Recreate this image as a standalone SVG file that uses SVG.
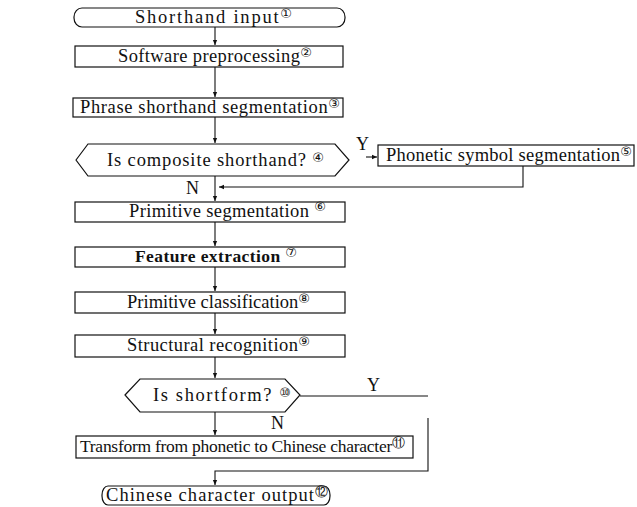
<svg xmlns="http://www.w3.org/2000/svg" width="637" height="507" viewBox="0 0 637 507">
<defs>
<marker id="ah" viewBox="0 0 8 8" refX="7" refY="4" markerWidth="6" markerHeight="6" orient="auto" markerUnits="userSpaceOnUse">
<path d="M0,1 L7,4 L0,7 Z" fill="#111"/>
</marker>
<style>
.box{fill:#fff;stroke:#111;stroke-width:1.2}
.t{font-family:"Liberation Serif","DejaVu Serif",serif;font-size:18.5px;fill:#111}
.t tspan.c{font-family:"DejaVu Sans",sans-serif;font-size:13px}
.ln{fill:none;stroke:#111;stroke-width:1.1}
.lb{font-family:"Liberation Serif",serif;font-size:18px;fill:#111}
</style>
</defs>
<rect width="637" height="507" fill="#fff"/>
<g id="connectors">
<line class="ln" x1="215" y1="27" x2="215" y2="45" marker-end="url(#ah)"/>
<line class="ln" x1="215" y1="67" x2="215" y2="97" marker-end="url(#ah)"/>
<line class="ln" x1="215" y1="117" x2="215" y2="143" marker-end="url(#ah)"/>
<line class="ln" x1="366" y1="157" x2="377" y2="157" marker-end="url(#ah)"/>
<text class="lb" x="356" y="150">Y</text>
<polyline class="ln" points="523,166 523,187 219,187" marker-end="url(#ah)"/>
<text class="lb" x="186" y="194">N</text>
<line class="ln" x1="215" y1="176" x2="215" y2="201" marker-end="url(#ah)"/>
<line class="ln" x1="215" y1="222" x2="215" y2="246" marker-end="url(#ah)"/>
<line class="ln" x1="215" y1="267" x2="215" y2="291" marker-end="url(#ah)"/>
<line class="ln" x1="215" y1="313" x2="215" y2="334" marker-end="url(#ah)"/>
<line class="ln" x1="215" y1="357" x2="215" y2="378" marker-end="url(#ah)"/>
<line class="ln" x1="300" y1="396" x2="428" y2="396"/>
<text class="lb" x="367" y="391">Y</text>
<line class="ln" x1="215" y1="412" x2="215" y2="435" marker-end="url(#ah)"/>
<text class="lb" x="271" y="429">N</text>
<polyline class="ln" points="428,418 428,471 215,471 215,485" marker-end="url(#ah)"/>
</g>
<g id="n1">
<rect class="box" x="74" y="8" width="271" height="19" rx="8" ry="9"/>
<text class="t" x="135" y="23" textLength="157" lengthAdjust="spacing">Shorthand input<tspan class="c" dy="-5">①</tspan></text>
</g>
<g id="n2">
<rect class="box" x="75" y="46" width="268" height="21"/>
<text class="t" x="118" y="62" textLength="194" lengthAdjust="spacing">Software preprocessing<tspan class="c" dy="-5">②</tspan></text>
</g>
<g id="n3">
<rect class="box" x="73" y="98" width="270" height="19"/>
<text class="t" x="80" y="113" textLength="260" lengthAdjust="spacing">Phrase shorthand segmentation<tspan class="c" dy="-5">③</tspan></text>
</g>
<g id="n4">
<polygon class="box" points="76,160 88,144 335,144 349,160 335,176 88,176"/>
<text class="t" x="107" y="166" textLength="217" lengthAdjust="spacing">Is composite shorthand? <tspan class="c" dy="-4">④</tspan></text>
</g>
<g id="n5">
<rect class="box" x="378" y="145" width="256" height="21"/>
<text class="t" x="386" y="161" textLength="246" lengthAdjust="spacing">Phonetic symbol segmentation<tspan class="c" dy="-5">⑤</tspan></text>
</g>
<g id="n6">
<rect class="box" x="75" y="202" width="270" height="20"/>
<text class="t" x="129" y="217" textLength="197" lengthAdjust="spacing">Primitive segmentation <tspan class="c" dy="-6">⑥</tspan></text>
</g>
<g id="n7">
<rect class="box" x="75" y="247" width="270" height="20"/>
<text class="t" x="135" y="262" textLength="162" lengthAdjust="spacing" style="font-size:17.5px;font-weight:bold">Feature extraction <tspan class="c" dy="-5" style="font-weight:normal">⑦</tspan></text>
</g>
<g id="n8">
<rect class="box" x="75" y="292" width="270" height="21"/>
<text class="t" x="127" y="308" textLength="183" lengthAdjust="spacing">Primitive classification<tspan class="c" dy="-5">⑧</tspan></text>
</g>
<g id="n9">
<rect class="box" x="75" y="335" width="270" height="22"/>
<text class="t" x="127" y="351" textLength="183" lengthAdjust="spacing">Structural recognition<tspan class="c" dy="-5">⑨</tspan></text>
</g>
<g id="n10">
<polygon class="box" points="125,395 140,379 285,379 300,395 285,412 140,412"/>
<text class="t" x="153" y="401" textLength="138" lengthAdjust="spacing">Is shortform? <tspan class="c" dy="-4">⑩</tspan></text>
</g>
<g id="n11">
<rect class="box" x="76" y="436" width="337" height="22"/>
<text class="t" x="80" y="452" textLength="325" lengthAdjust="spacing" style="font-size:17.5px">Transform from phonetic to Chinese character<tspan class="c" dy="-5">⑪</tspan></text>
</g>
<g id="n12">
<rect class="box" x="102" y="486" width="228" height="19" rx="6" ry="9"/>
<text class="t" x="106" y="501" textLength="222" lengthAdjust="spacing">Chinese character output<tspan class="c" dy="-5">⑫</tspan></text>
</g>
</svg>
